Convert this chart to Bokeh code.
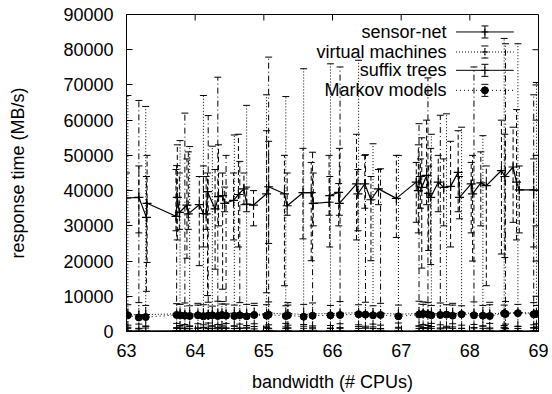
from bokeh.plotting import figure
from bokeh.models import (Range1d, SingleIntervalTicker, Whisker, TeeHead,
                          ColumnDataSource, Label, BasicTickFormatter)
from bokeh.embed import file_html
from bokeh.resources import INLINE

# ---------------- data ----------------
x_common = [63.02, 63.18, 63.28, 63.73, 63.78, 63.85, 63.92, 64.04, 64.12, 64.19,
            64.25, 64.33, 64.39, 64.45, 64.57, 64.65, 64.75, 64.86, 65.04, 65.07,
            65.32, 65.35, 65.58, 65.71, 65.97, 66.11, 66.38, 66.48, 66.59, 66.70,
            66.96, 67.26, 67.32, 67.39, 67.44, 67.57, 67.66, 67.75, 67.88, 68.06,
            68.19, 68.29, 68.50, 68.52, 68.70, 68.93, 68.97]

sensor_net = [200, 150, 180, 220, 160, 190, 210, 170, 230, 150, 200, 180, 160, 210, 190, 170,
              220, 150, 200, 240, 180, 160, 210, 190, 170, 200, 230, 180, 160, 210, 190, 170,
              220, 200, 180, 160, 210, 190, 230, 170, 200, 180, 220, 210, 190, 170, 200]
sensor_err = [700, 600, 800, 650, 700, 750, 600, 700, 800, 650, 700, 600, 750, 700, 650, 800,
              700, 600, 750, 700, 650, 800, 700, 600, 750, 700, 650, 800, 700, 600, 750, 700,
              650, 800, 700, 600, 750, 700, 650, 800, 700, 600, 750, 700, 650, 800, 700]

virtual_machines = [4900, 4700, 4800, 5000, 5100, 4900, 5000, 4800, 5200, 4900, 5000, 5100,
                    4800, 5000, 5200, 4900, 5100, 4800, 5000, 5300, 4900, 5100, 4800, 5000,
                    5100, 5200, 5300, 5100, 5000, 5200, 4900, 5100, 5300, 5200, 5000, 5100,
                    5200, 5000, 5300, 5100, 5000, 4900, 5300, 5200, 5400, 5200, 5300]
virtual_lo = [1800, 2100, 1500, 2300, 1700, 2000, 1600, 2200, 1900, 2400, 1500, 2000,
              1800, 2300, 1600, 2100, 1700, 2200, 1500, 1900, 2300, 1800, 2000, 1600,
              1700, 2200, 1900, 1500, 2100, 1800, 2400, 1600, 2000, 1700, 2300, 1900,
              1500, 2200, 1800, 2000, 1600, 2300, 1700, 2100, 1500, 1900, 2200]
virtual_hi = [67000, 8200, 63900, 7900, 54200, 8100, 52500, 8000, 67000, 8300, 52600, 8600,
              8500, 7800, 55800, 8200, 64200, 8000, 67200, 8400, 66700, 8200, 74600, 8100,
              76000, 8500, 77000, 8300, 53300, 8000, 50000, 8600, 8400, 8200, 56000, 8100,
              61800, 8000, 58000, 8400, 55600, 8300, 83200, 8500, 81700, 8200, 70700]

markov_models = [4600, 4000, 4100, 4700, 4600, 4500, 4400, 4600, 4300, 4500, 4600, 4400,
                 4700, 4500, 4400, 4600, 4300, 4700, 4500, 4800, 4400, 4600, 4200, 4500,
                 4600, 4700, 4900, 4800, 4600, 4700, 4300, 4800, 5000, 4900, 4600, 4700,
                 4800, 4500, 4900, 4600, 4500, 4400, 5100, 5000, 5200, 4900, 5000]
markov_lo = [1200, 900, 1500, 1100, 1300, 800, 1400, 1000, 1200, 900, 1600, 1100,
             1300, 1000, 1500, 900, 1200, 1400, 1100, 800, 1300, 1000, 1500, 1200,
             900, 1100, 1400, 1000, 1300, 800, 1200, 1500, 1100, 900, 1400, 1000,
             1200, 1300, 900, 1100, 1500, 1000, 1200, 800, 1400, 1100, 1300]
markov_hi = [7600, 65600, 7400, 47100, 7700, 62000, 7300, 7500, 7600, 61300, 7200, 72200,
             7800, 50000, 7500, 48300, 7700, 7400, 7600, 77900, 7300, 7500, 7700, 50900,
             7400, 75100, 7600, 50200, 7300, 46200, 7500, 59000, 7700, 72000, 7400, 61400,
             7600, 7500, 7300, 75100, 7400, 7600, 7500, 81700, 7700, 67200, 7400]

suffix_x = [63.00, 63.18, 63.29, 63.30, 63.72, 63.74, 63.77, 63.88, 63.90, 64.06,
            64.12, 64.16, 64.18, 64.29, 64.34, 64.40, 64.43, 64.56, 64.63, 64.71,
            64.75, 64.85, 65.04, 65.07, 65.30, 65.34, 65.57, 65.69, 65.72, 65.95,
            65.96, 66.09, 66.10, 66.35, 66.37, 66.47, 66.56, 66.67, 66.93, 67.22,
            67.25, 67.28, 67.30, 67.37, 67.40, 67.43, 67.54, 67.62, 67.72, 67.83,
            67.85, 68.02, 68.04, 68.16, 68.24, 68.46, 68.51, 68.63, 68.68, 68.72, 68.93]
suffix_trees = [37900, 38100, 32400, 36400, 32700, 38100, 33800, 35900, 33400, 36000,
                33500, 33400, 39700, 34800, 38300, 38600, 36400, 37200, 38900, 40500,
                36200, 35900, 39100, 41100, 39100, 35700, 39400, 39400, 36400, 36700,
                38600, 39500, 36400, 41900, 39100, 41900, 37400, 40500, 37800, 42400,
                40000, 44000, 40900, 44300, 39200, 38100, 42400, 40900, 41200, 45200,
                38100, 41900, 39100, 42200, 41400, 45700, 44000, 46700, 42400, 40200, 40200]
suffix_lo = [31000, 28000, 11400, 19600, 28600, 26000, 29000, 20800, 29000, 18700,
             24000, 29000, 10200, 17700, 30000, 12000, 34000, 26000, 24000, 36000,
             34000, 30000, 11000, 25000, 13000, 33000, 26300, 20100, 30000, 33000,
             24000, 30000, 33000, 26000, 28600, 35000, 20100, 36000, 26700, 31000,
             28000, 35000, 18000, 36000, 23000, 19000, 34000, 30000, 24000, 34000,
             32000, 28000, 20000, 30000, 13000, 22000, 21000, 31000, 26000, 28000, 24000]
suffix_hi = [45000, 47000, 44000, 50000, 46000, 53000, 45000, 49000, 51000, 44000,
             47000, 44000, 45000, 46000, 53000, 45000, 41000, 45000, 56000, 45000,
             41000, 40000, 57000, 54000, 50000, 45000, 52000, 48000, 45000, 50000,
             44000, 42000, 52000, 56000, 46000, 50000, 44000, 46000, 50000, 48000,
             53000, 49000, 55000, 60000, 47000, 52000, 50000, 49000, 54000, 57000,
             44000, 48000, 50000, 51000, 47000, 60000, 56000, 58000, 63000, 47000, 49000]

series_names = ["sensor-net", "virtual machines", "suffix trees", "Markov models"]
x_ticks_interval = 1
y_ticks_interval = 10000

# ---------------- figure ----------------
FONT = "Liberation Sans"
FS = "18px"
FRAME_W, FRAME_H = 412, 317
TICK_PX = 6

p = figure(width=552, height=394, output_backend="svg", toolbar_location=None,
           x_range=Range1d(63, 69), y_range=Range1d(0, 90000),
           min_border_left=126, min_border_right=14, min_border_top=14, min_border_bottom=63)
p.background_fill_color = "white"
p.border_fill_color = "white"
p.outline_line_color = "black"
p.outline_line_width = 1
p.xgrid.visible = False
p.ygrid.visible = False

for ax in (p.xaxis[0], p.yaxis[0]):
    ax.axis_line_color = "black"
    ax.major_tick_in = TICK_PX
    ax.major_tick_out = 0
    ax.minor_tick_line_color = None
    ax.major_tick_line_color = "black"
    ax.major_label_text_font = FONT
    ax.major_label_text_font_size = FS
    ax.major_label_text_color = "black"
    ax.axis_label_text_font = FONT
    ax.axis_label_text_font_size = FS
    ax.axis_label_text_font_style = "normal"
    ax.axis_label_text_color = "black"

p.xaxis.ticker = SingleIntervalTicker(interval=x_ticks_interval, num_minor_ticks=0)
p.yaxis.ticker = SingleIntervalTicker(interval=y_ticks_interval, num_minor_ticks=0)
p.yaxis.formatter = BasicTickFormatter(use_scientific=False)
p.xaxis.major_label_standoff = 12
p.yaxis.major_label_standoff = 13
p.xaxis.axis_label = "bandwidth (# CPUs)"
p.yaxis.axis_label = "response time (MB/s)"
p.xaxis.axis_label_standoff = 12
p.yaxis.axis_label_standoff = 32

xs, xe = p.x_range.start, p.x_range.end
ys, ye = p.y_range.start, p.y_range.end

# mirrored tick marks on the top and right frame edges (gnuplot style)
top_ticks = [xs + i * x_ticks_interval for i in range(1, int(round((xe - xs) / x_ticks_interval)))]
right_ticks = [ys + i * y_ticks_interval for i in range(1, int(round((ye - ys) / y_ticks_interval)))]
dy_tick = TICK_PX * (ye - ys) / FRAME_H
dx_tick = TICK_PX * (xe - xs) / FRAME_W
p.segment(x0=top_ticks, y0=[ye] * len(top_ticks), x1=top_ticks, y1=[ye - dy_tick] * len(top_ticks),
          line_color="black", line_width=1)
p.segment(x0=[xe] * len(right_ticks), y0=right_ticks, x1=[xe - dx_tick] * len(right_ticks),
          y1=right_ticks, line_color="black", line_width=1)


def bars(x, lo, hi, dash, cap=7):
    src = ColumnDataSource(dict(x=x, lo=lo, hi=hi))
    w = Whisker(source=src, base="x", lower="lo", upper="hi", dimension="height",
                line_color="black", line_width=1, line_dash=dash,
                upper_head=TeeHead(size=cap, line_color="black", line_width=1),
                lower_head=TeeHead(size=cap, line_color="black", line_width=1))
    p.add_layout(w)


# error bars
bars(x_common, virtual_lo, virtual_hi, "1 2")
bars(x_common, markov_lo, markov_hi, "6 3 1 3")
bars(suffix_x, suffix_lo, suffix_hi, "5 3")
bars(x_common, [max(0, v - e) for v, e in zip(sensor_net, sensor_err)],
     [v + e for v, e in zip(sensor_net, sensor_err)], "solid")

# lines + markers
p.line(x_common, sensor_net, line_color="black", line_width=1)
p.scatter(x_common, sensor_net, marker="cross", size=9, line_color="black", line_width=1)

p.line(x_common, virtual_machines, line_color="black", line_width=1, line_dash="1 2")
p.scatter(x_common, virtual_machines, marker="cross", size=8, line_color="black", line_width=1)

p.line(suffix_x, suffix_trees, line_color="black", line_width=1.2)
p.scatter(suffix_x, suffix_trees, marker="cross", size=9, line_color="black", line_width=1.2)

p.line(x_common, markov_models, line_color="black", line_width=1, line_dash="1 3")
p.scatter(x_common, markov_models, marker="circle", size=7, fill_color="black", line_color="black")

# ---------------- key (top right, gnuplot style) ----------------
key_text_x = xs + 0.7766 * (xe - xs)
key_x0 = xs + 0.7998 * (xe - xs)
key_x1 = xs + 0.9400 * (xe - xs)
key_xm = (key_x0 + key_x1) / 2
key_rows = [ys + f * (ye - ys) for f in (0.9449, 0.8817, 0.8239, 0.7607)]
key_half = 0.019 * (ye - ys)
key_styles = [
    dict(dash="solid", marker="cross"),
    dict(dash="1 2", marker="cross"),
    dict(dash="solid", marker="cross"),
    dict(dash="1 3", marker="circle"),
]
bar_dashes = ["solid", "1 2", "5 3", "6 3 1 3"]

for name, yk, st, bd in zip(series_names, key_rows, key_styles, bar_dashes):
    p.add_layout(Label(x=key_text_x, y=yk, text=name, text_align="right", text_baseline="middle",
                       text_font=FONT, text_font_size=FS, text_color="black"))
    p.line([key_x0, key_x1], [yk, yk], line_color="black", line_width=1, line_dash=st["dash"])
    bars([key_xm], [yk - key_half], [yk + key_half], bd)
    p.scatter([key_xm], [yk], marker=st["marker"], size=7, line_color="black", fill_color="black")

open("out.html", "w").write(file_html(p, INLINE))
